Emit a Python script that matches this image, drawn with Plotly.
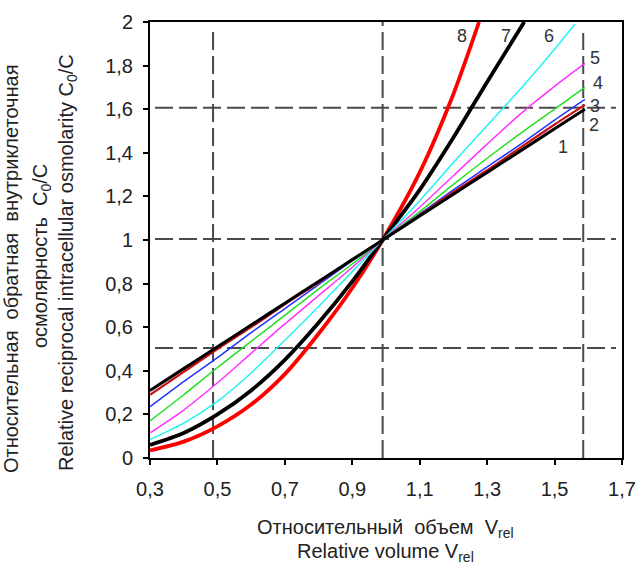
import plotly.graph_objects as go

# ---- data ----
v_grid = [0.3, 0.4, 0.5, 0.6, 0.7, 0.8, 0.9, 0.99, 1.1, 1.2, 1.3, 1.4, 1.5, 1.59]

curve1 = [0.31, 0.41, 0.51, 0.61, 0.71, 0.81, 0.91, 1.0, 1.11, 1.21, 1.31, 1.41, 1.51, 1.60]
curve2 = [0.29, 0.395, 0.50, 0.60, 0.705, 0.805, 0.91, 1.0, 1.115, 1.22, 1.32, 1.425, 1.53, 1.62]
curve3 = [0.235, 0.35, 0.46, 0.575, 0.685, 0.795, 0.905, 1.0, 1.12, 1.23, 1.335, 1.44, 1.55, 1.645]
curve4 = [0.17, 0.29, 0.415, 0.535, 0.655, 0.775, 0.89, 1.0, 1.13, 1.255, 1.375, 1.49, 1.60, 1.70]
curve5 = [0.115, 0.22, 0.345, 0.48, 0.615, 0.745, 0.875, 1.0, 1.15, 1.295, 1.44, 1.58, 1.705, 1.81]

v6 = [0.3, 0.4, 0.5, 0.6, 0.7, 0.8, 0.9, 0.99, 1.1, 1.2, 1.3, 1.4, 1.5, 1.56]
curve6 = [0.085, 0.16, 0.26, 0.39, 0.54, 0.695, 0.855, 1.0, 1.18, 1.355, 1.525, 1.695, 1.875, 1.99]

v7 = [0.3, 0.4, 0.5, 0.6, 0.7, 0.8, 0.9, 0.99, 1.1, 1.2, 1.3, 1.41]
curve7 = [0.06, 0.115, 0.20, 0.31, 0.45, 0.62, 0.81, 1.0, 1.23, 1.47, 1.725, 2.0]

v8 = [0.3, 0.4, 0.5, 0.6, 0.7, 0.8, 0.9, 0.99, 1.1, 1.2, 1.276]
curve8 = [0.035, 0.075, 0.145, 0.245, 0.385, 0.57, 0.78, 1.0, 1.31, 1.67, 2.0]

x_tickvals = [0.3, 0.5, 0.7, 0.9, 1.1, 1.3, 1.5, 1.7]
x_ticktext = ["0,3", "0,5", "0,7", "0,9", "1,1", "1,3", "1,5", "1,7"]
y_tickvals = [0, 0.2, 0.4, 0.6, 0.8, 1.0, 1.2, 1.4, 1.6, 1.8, 2.0]
y_ticktext = ["0", "0,2", "0,4", "0,6", "0,8", "1", "1,2", "1,4", "1,6", "1,8", "2"]

# reference (dashed) lines
v_ref = [0.487, 0.99, 1.585]
v_ref_top = [1.96, 2.0, 1.95]
h_ref = [0.505, 1.005, 1.607]

curve_labels = ["8", "7", "6", "5", "4", "3", "2", "1"]
label_x = [1.224, 1.355, 1.483, 1.619, 1.628, 1.619, 1.618, 1.526]
label_y = [1.935, 1.935, 1.938, 1.836, 1.720, 1.613, 1.526, 1.427]

# ---- figure ----
fig = go.Figure()

def add(x, y, color, width):
    fig.add_trace(go.Scatter(x=x, y=y, mode="lines",
                             line=dict(color=color, width=width, shape="spline", smoothing=0.8),
                             hoverinfo="skip", showlegend=False))

add(v8, curve8, "#ff0000", 3.8)
add(v7, curve7, "#000000", 3.8)
add(v6, curve6, "#22f4f4", 1.5)
add(v_grid, curve5, "#ff33ff", 1.5)
add(v_grid, curve4, "#22e022", 1.5)
add(v_grid, curve3, "#2233ff", 1.5)
add(v_grid, curve2, "#c81010", 2.2)
add(v_grid, curve1, "#000000", 3)

dash_style = dict(color="#4a4a4a", width=2, dash="18px,6px")
for xv, top in zip(v_ref, v_ref_top):
    fig.add_shape(type="line", xref="x", yref="y", x0=xv, x1=xv, y0=0, y1=top,
                  line=dash_style, layer="below")
for yv in h_ref:
    fig.add_shape(type="line", xref="x", yref="y", x0=0.315, x1=1.682, y0=yv, y1=yv,
                  line=dash_style, layer="below")

for t, xx, yy in zip(curve_labels, label_x, label_y):
    fig.add_annotation(x=xx, y=yy, xref="x", yref="y", text=t, showarrow=False,
                       font=dict(family="Liberation Sans, Arial", size=18, color="#333333"))

PL, PR, PT, PB = 150.0, 622.0, 21.5, 458.3

def px_x(p):
    return (p - PL) / (PR - PL)

def px_y(p):
    return (PB - p) / (PB - PT)

title_font = dict(family="Liberation Sans, Arial", size=20, color="#222222")
fig.add_annotation(x=px_x(385), y=px_y(529), xref="paper", yref="paper", xanchor="center", yanchor="middle",
                   text="Относительный  объем  V<sub>rel</sub>", showarrow=False, font=title_font)
fig.add_annotation(x=px_x(385), y=px_y(553), xref="paper", yref="paper", xanchor="center", yanchor="middle",
                   text="Relative volume V<sub>rel</sub>", showarrow=False, font=title_font)

y_title_lines = ["Относительная  обратная  внутриклеточная",
                 "осмолярность  C<sub>0</sub>/C",
                 "Relative reciprocal intracellular osmolarity C<sub>0</sub>/C"]
y_title_px = [11, 41, 67]
y_title_cy = [269, 256, 263]
for txt, px, cy in zip(y_title_lines, y_title_px, y_title_cy):
    fig.add_annotation(x=px_x(px), y=px_y(cy), xref="paper", yref="paper",
                       xanchor="center", yanchor="middle", textangle=-90,
                       text=txt, showarrow=False, font=title_font)

axis_common = dict(showgrid=False, zeroline=False, showline=True, linecolor="black",
                   linewidth=2, mirror=True, ticks="outside", ticklen=5, tickwidth=1.5,
                   tickcolor="black", automargin=False,
                   tickfont=dict(family="Liberation Sans, Arial", size=20, color="#222222"))

fig.update_xaxes(range=[0.3, 1.7], tickvals=x_tickvals, ticktext=x_ticktext,
                 ticklabelstandoff=7, **axis_common)
fig.update_yaxes(range=[0, 2], tickvals=y_tickvals, ticktext=y_ticktext,
                 ticklabelstandoff=6, **axis_common)

fig.update_layout(width=637, height=567,
                  margin=dict(l=PL, r=637 - PR, t=PT, b=567 - PB),
                  paper_bgcolor="white", plot_bgcolor="white")

fig.write_html("out.html", config={"displayModeBar": False},
               post_script="document.body.style.margin='0';document.body.style.overflow='hidden';")
